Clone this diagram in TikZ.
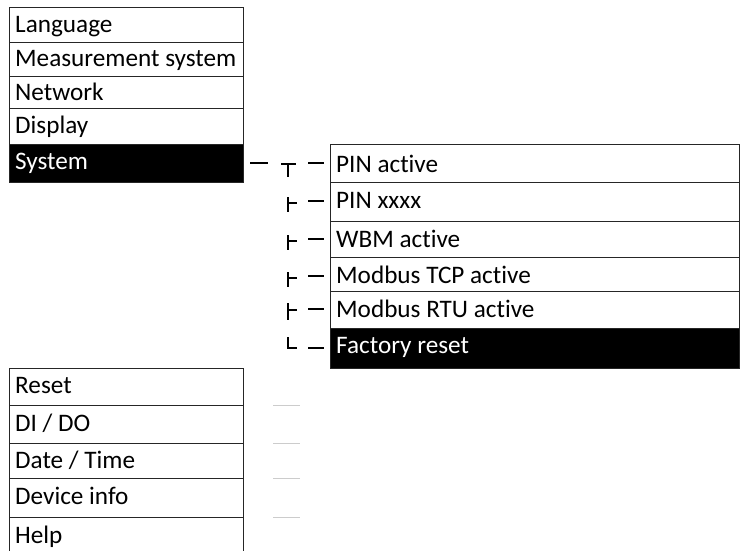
\documentclass[tikz,border=0pt]{standalone}
\usepackage{fontspec}
\setmainfont{Carlito}[Ligatures=NoCommon]
\begin{document}
\begin{tikzpicture}[x=1pt,y=-1pt,
  box/.style={draw=black!85,line width=1pt},
  sel/.style={fill=black,draw=black!85,line width=1pt},
  lbl/.style={anchor=base west,inner sep=0pt,font=\fontsize{25.2}{28}\selectfont},
  wlbl/.style={lbl,text=white},
  glyph/.style={line width=1.3pt,black},
  faint/.style={line width=0.8pt,black!20}]
\useasboundingbox (0,0) rectangle (740,550);
% left upper menu
\draw[box] (9,7) rectangle (243,42);
\draw[box] (9,42) rectangle (243,76);
\draw[box] (9,76) rectangle (243,108);
\draw[box] (9,108) rectangle (243,144);
\draw[sel] (9,144) rectangle (243,182);
\node[lbl] (lang) at (15,32.5) {Language};
\node[lbl] (meas) at (15,66.5) {Measurement system};
\node[lbl] (net) at (15,100.5) {Network};
\node[lbl] (disp) at (15,133.5) {Display};
\node[wlbl] (sys) at (15,169.5) {System};
% right submenu
\draw[box] (330,144) rectangle (739,182);
\draw[box] (330,182) rectangle (739,221);
\draw[box] (330,221) rectangle (739,257);
\draw[box] (330,257) rectangle (739,291);
\draw[box] (330,291) rectangle (739,328);
\draw[sel] (330,328) rectangle (739,368);
\node[lbl] (pin) at (336,172) {PIN active};
\node[lbl] (pinx) at (336,208) {PIN xxxx};
\node[lbl] (wbm) at (336,247) {WBM active};
\node[lbl] (tcp) at (336,283) {Modbus TCP active};
\node[lbl] (rtu) at (336,317) {Modbus RTU active};
\node[wlbl] (fac) at (336,353) {Factory reset};
% tree glyphs
\coordinate (d0a) at (250,163); \coordinate (d0b) at (268,163);
\draw[glyph] (d0a) -- (d0b);
\draw[glyph] (281,164) -- (296,164) (288,164) -- (288,177);
\foreach \ya/\yb/\ym in {197/212/203, 235/250/241, 272/287/278, 303/320/310}{
  \draw[glyph] (288,\ya) -- (288,\yb) (288,\ym) -- (297,\ym);
}
\draw[glyph] (288,337) -- (288,348) -- (297,348);
\foreach \y in {163,201,239,276,309,348}{
  \draw[glyph] (308,\y) -- (324,\y);
}
% left lower menu
\draw[box] (9,368) rectangle (243,405);
\draw[box] (9,405) rectangle (243,443);
\draw[box] (9,443) rectangle (243,478);
\draw[box] (9,478) rectangle (243,517);
\draw[box] (9,552) -- (9,517) -- (243,517) -- (243,552);
\node[lbl] (reset) at (15,393) {Reset};
\node[lbl] (dido) at (15,431) {DI / DO};
\node[lbl] (date) at (15,468) {Date / Time};
\node[lbl] (dev) at (15,504) {Device info};
\node[lbl] (help) at (15,543) {Help};
\foreach \y in {405,443,478,517}{
  \draw[faint] (273,\y) -- (300,\y);
}
\end{tikzpicture}
\end{document}
